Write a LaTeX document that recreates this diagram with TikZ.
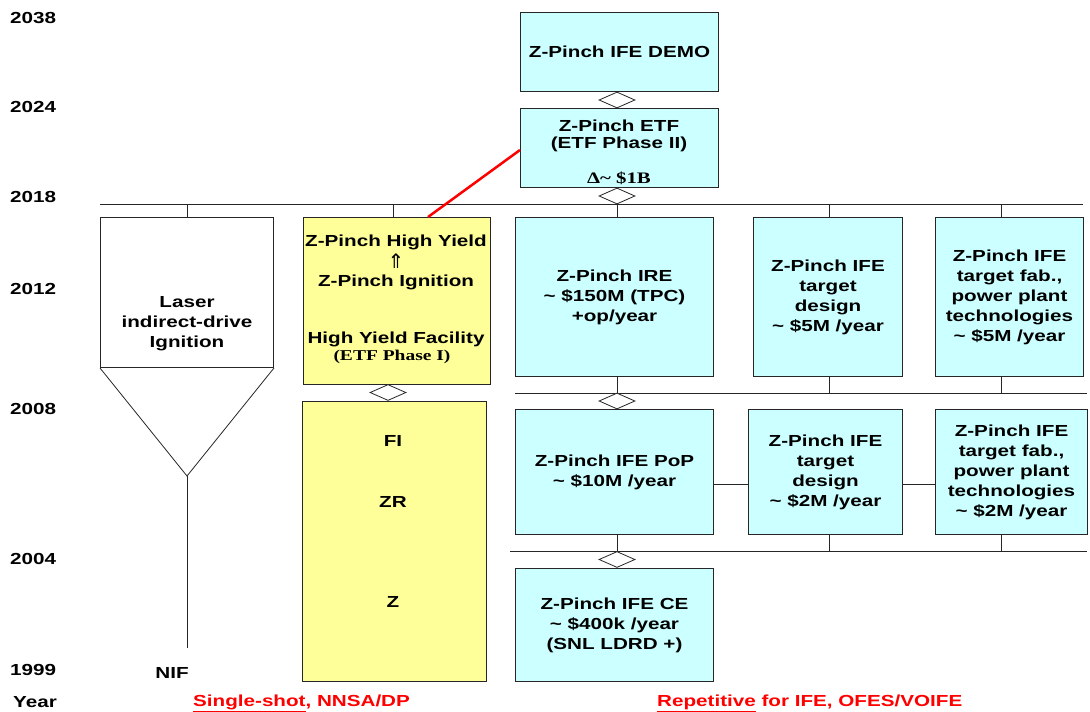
\documentclass[tikz,border=0pt]{standalone}
\usepackage{fontspec}
\setmainfont[FakeStretch=1.29]{Liberation Sans}
\newfontfamily\serifb[FakeStretch=1.3]{Liberation Serif}
\newfontfamily\dejavu{DejaVu Sans}
\usetikzlibrary{shapes.geometric}
\definecolor{cyanbox}{HTML}{CCFFFF}
\definecolor{yelbox}{HTML}{FFFF99}
\begin{document}
\begin{tikzpicture}[x=1pt,y=-1pt,
  every node/.style={font=\fontsize{16}{20}\selectfont\bfseries},
  box/.style={draw=black!85, line width=1pt, anchor=north west, inner sep=0pt, align=center},
  cbox/.style={box, fill=cyanbox},
  ybox/.style={box, fill=yelbox},
  wbox/.style={box, fill=white},
  dia/.style={diamond, draw=black!85, fill=white, line width=0.8pt, inner sep=0pt, minimum width=36pt, minimum height=16pt},
  ln/.style={draw=black!85, line width=0.8pt},
  lbl/.style={inner sep=0pt, align=center},
  yr/.style={inner sep=0pt, anchor=west},
  redlbl/.style={inner sep=0pt, anchor=west, text=red}
]
\useasboundingbox (0,0) rectangle (1090,712);

% year labels
\node[yr] (y2038) at (10,18) {2038};
\node[yr] (y2024) at (10,107) {2024};
\node[yr] (y2018) at (10,197) {2018};
\node[yr] (y2012) at (10,289) {2012};
\node[yr] (y2008) at (10,409) {2008};
\node[yr] (y2004) at (10,559) {2004};
\node[yr] (y1999) at (10,670) {1999};
\node[yr] (yyear) at (13,702) {Year};

% bus lines
\coordinate (b1l) at (100,204);
\coordinate (b1r) at (1083,204);
\coordinate (b2l) at (515,393);
\coordinate (b2r) at (1087,393);
\coordinate (b3l) at (510,551);
\coordinate (b3r) at (1087,551);
\draw[ln] (b1l) -- (b1r);
\draw[ln] (b2l) -- (b2r);
\draw[ln] (b3l) -- (b3r);

% boxes
\node[cbox, minimum width=198pt, minimum height=79pt] (demo) at (520,12) {Z-Pinch IFE DEMO};
\node[cbox, minimum width=198pt, minimum height=79pt] (etf) at (520,108) {};
\node[wbox, minimum width=173pt, minimum height=150pt] (laser) at (100,217) {};
\node[ybox, minimum width=187pt, minimum height=167pt] (ytop) at (303,217) {};
\node[ybox, minimum width=184pt, minimum height=280pt] (ybot) at (302,401) {};
\node[cbox, minimum width=198pt, minimum height=159pt] (ire) at (515,217) {Z-Pinch IRE\\\textasciitilde{} \$150M (TPC)\\+op/year};
\node[cbox, minimum width=149pt, minimum height=159pt] (td1) at (753,217) {Z-Pinch IFE\\target\\design\\\textasciitilde{} \$5M /year};
\node[cbox, minimum width=148pt, minimum height=159pt] (tf1) at (935,217) {Z-Pinch IFE\\target fab.,\\power plant\\technologies\\\textasciitilde{} \$5M /year};
\node[cbox, minimum width=198pt, minimum height=125pt] (pop) at (515,409) {Z-Pinch IFE PoP\\\textasciitilde{} \$10M /year};
\node[cbox, minimum width=154pt, minimum height=125pt] (td2) at (748,409) {Z-Pinch IFE\\target\\design\\\textasciitilde{} \$2M /year};
\node[cbox, minimum width=152pt, minimum height=125pt] (tf2) at (935,409) {Z-Pinch IFE\\target fab.,\\power plant\\technologies\\\textasciitilde{} \$2M /year};
\node[cbox, minimum width=198pt, minimum height=113pt] (ce) at (515,568) {Z-Pinch IFE CE\\\textasciitilde{} \$400k /year\\(SNL LDRD +)};

% texts inside boxes
\node[lbl] (etft1) at (619,126) {Z-Pinch ETF};
\node[lbl] (etft2) at (619,144) {(ETF Phase II)};
\node[lbl, font=\fontsize{16}{20}\selectfont\serifb\bfseries] (etft3) at (619,178) {Δ\textasciitilde{} \$1B};
\node[lbl] (lasert) at (187,324) {Laser\\indirect-drive\\Ignition};
\node[lbl] (yt1) at (396,242) {Z-Pinch High Yield};
\node[lbl, font=\fontsize{20}{20}\selectfont\dejavu] (yt2) at (396,261) {⇑};
\node[lbl] (yt3) at (396,282) {Z-Pinch Ignition};
\node[lbl] (yt4) at (396,339) {High Yield Facility};
\node[lbl, font=\fontsize{15}{18}\selectfont\serifb\bfseries] (yt5) at (392,357) {(ETF Phase I)};
\node[lbl] (fi) at (393,441) {FI};
\node[lbl] (zr) at (393,502) {ZR};
\node[lbl] (zz) at (393,602) {Z};
\node[lbl] (nif) at (172,673) {NIF};

% diamonds
\node[dia] (d1) at (617,100) {};
\node[dia] (d2) at (617,196) {};
\node[dia] (dy) at (388,392.5) {};
\node[dia] (d3) at (617,401) {};
\node[dia] (d4) at (617,559.5) {};

% laser funnel
\coordinate (tip) at (187,476);
\coordinate (nifend) at (187,648);
\draw[ln] (laser.south west) -- (tip) -- (laser.south east);
\draw[ln] (tip) -- (nifend);

% ticks
\coordinate (tl) at (187,204);
\coordinate (ty) at (393,204);
\draw[ln] (tl) -- (tl |- laser.north);
\draw[ln] (ty) -- (ty |- ytop.north);
\draw[ln] (d2.south) -- (d2.south |- ire.north);
\coordinate (t1) at (829,204);
\coordinate (t2) at (1001,204);
\draw[ln] (t1) -- (t1 |- td1.north);
\draw[ln] (t2) -- (t2 |- tf1.north);
\draw[ln] (d3.north |- ire.south) -- (d3.north);
\coordinate (t3) at (829,393);
\coordinate (t4) at (1001,393);
\draw[ln] (t3 |- td1.south) -- (t3);
\draw[ln] (t4 |- tf1.south) -- (t4);
\draw[ln] (d4.north |- pop.south) -- (d4.north);
\coordinate (t5) at (829,551);
\coordinate (t6) at (1001,551);
\draw[ln] (t5 |- td2.south) -- (t5);
\draw[ln] (t6 |- tf2.south) -- (t6);
\coordinate (h1) at (713,484);
\coordinate (h2) at (902,484);
\draw[ln] (h1) -- (h1 -| td2.west);
\draw[ln] (h2) -- (h2 -| tf2.west);

% red line
\coordinate (r1) at (428,217);
\coordinate (r2) at (520,150);
\draw[red, line width=2.5pt] (r1) -- (r2);

% bottom labels
\node[redlbl] (ss) at (193,703) {\underline{Single-shot}, NNSA/DP};
\node[redlbl] (rp) at (657,703) {\underline{Repetitive} for IFE, OFES/VOIFE};
\end{tikzpicture}
\end{document}
